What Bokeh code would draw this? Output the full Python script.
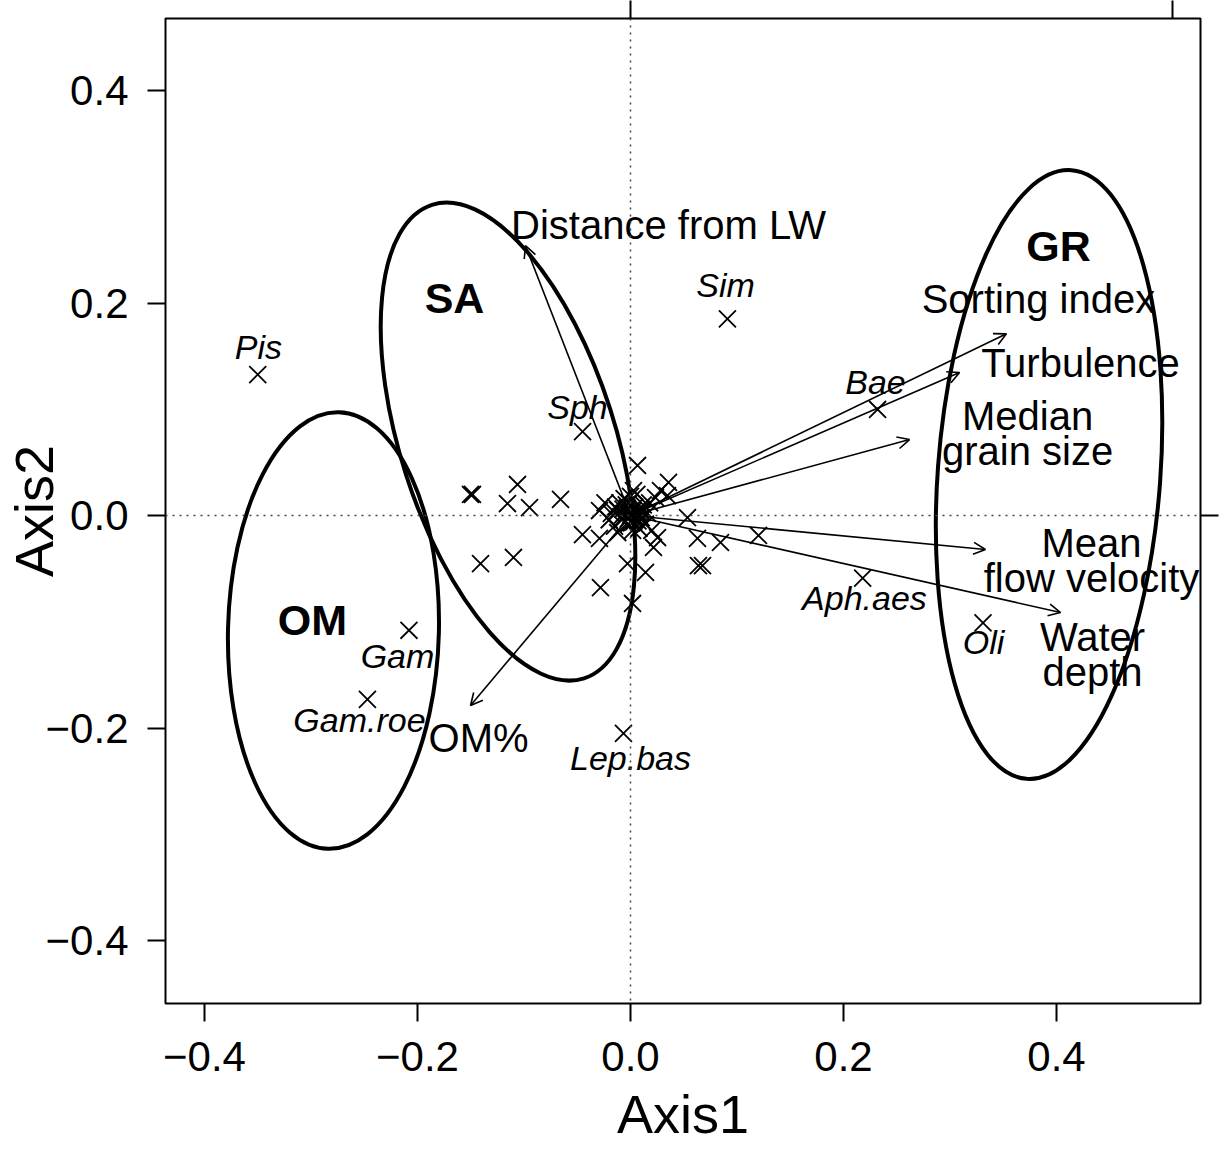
from bokeh.plotting import figure
from bokeh.models import (Range1d, LinearAxis, FixedTicker, CustomJSTickFormatter,
                          Span, Arrow, OpenHead, ColumnDataSource)
from bokeh.core.properties import value
from bokeh.embed import file_html
from bokeh.resources import INLINE

FONT = "Liberation Sans"

# ---------------- data ----------------
x_ticks = [-0.4, -0.2, 0.0, 0.2, 0.4]
y_ticks = [-0.4, -0.2, 0.0, 0.2, 0.4]
top_ticks = [0.0, 0.509]
right_ticks = [0.0]

# group ellipses (centre, full width along major axis, full height, angle in degrees)
group_names = ["OM", "SA", "GR"]
group_cx = [-0.2789, -0.115, 0.393]
group_cy = [-0.1082, 0.0696, 0.0386]
group_w = [0.410, 0.467, 0.573]
group_h = [0.1985, 0.202, 0.2096]
group_angle = [88.6, 107.8, 85.8]
group_lab_x = [-0.2986, -0.1652, 0.4019]
group_lab_y = [-0.0988, 0.2043, 0.2541]

# labelled taxa
species_lab = ["Pis", "Sim", "Bae", "Sph", "Gam", "Gam.roe", "Lep.bas", "Aph.aes", "Oli"]
species_x = [-0.350, 0.091, 0.232, -0.045, -0.208, -0.247, -0.0066, 0.218, 0.331]
species_y = [0.1327, 0.185, 0.0998, 0.079, -0.108, -0.173, -0.205, -0.059, -0.101]
species_lab_x = [-0.3493, 0.0892, 0.230, -0.0498, -0.2188, -0.2545, 0.0, 0.2197, 0.3315]
species_lab_y = [0.159, 0.2165, 0.1252, 0.1026, -0.1318, -0.192, -0.2287, -0.0781, -0.1195]

# unlabelled taxa
other_x = [0.0066, 0.0357, -0.1502, -0.1484, -0.1061, -0.1155, -0.0948, -0.0657, -0.0291,
           -0.0451, -0.0291, -0.1408, -0.1099, -0.0282, -0.0028, 0.0141, 0.0019, 0.0216,
           0.0254, 0.0535, 0.0629, 0.0845, 0.0638, 0.0676, 0.0282, 0.0347, 0.0028, 0.1202,
           0.0235,
           -0.012, -0.008, -0.004, 0.000, 0.003, 0.006, 0.010, -0.015, 0.012, -0.006, 0.002,
           0.008, -0.018, 0.016, -0.010, 0.004, -0.002, 0.014, -0.020, 0.000, 0.018, -0.012,
           0.006, -0.004, 0.010, -0.024, 0.020,
           -0.006, -0.002, 0.002, 0.005, -0.009, 0.008, -0.003, 0.001, 0.004, -0.007, 0.011,
           -0.001, -0.014, 0.007]
other_y = [0.0471, 0.0311, 0.0198, 0.0198, 0.0292, 0.0113, 0.0075, 0.0151, 0.0047,
           -0.0179, -0.0216, -0.0452, -0.0395, -0.0678, -0.0452, -0.0536, -0.0828, -0.0301,
           -0.0207, -0.0019, -0.0216, -0.0254, -0.0471, -0.0471, 0.0235, 0.0188, 0.0235, -0.0188,
           0.0169,
           0.005, -0.004, 0.010, 0.000, -0.006, 0.004, -0.002, -0.010, 0.010, 0.016, -0.014,
           -0.012, 0.002, 0.002, 0.012, 0.008, -0.008, -0.008, -0.004, 0.018, 0.012, -0.016,
           0.020, 0.004, 0.006, 0.012, -0.014,
           0.002, -0.003, 0.004, -0.002, -0.001, 0.001, 0.007, -0.007, -0.004, 0.006, 0.003,
           0.012, 0.008, -0.005]

# environmental vectors
env_names = ["Distance from LW", "Sorting index", "Turbulence", "Median\ngrain size",
             "Mean\nflow velocity", "Water\ndepth", "OM%"]
env_x = [-0.0986, 0.353, 0.309, 0.262, 0.3333, 0.4038, -0.1502]
env_y = [0.254, 0.171, 0.1346, 0.0715, -0.032, -0.0913, -0.1788]
env_lab_x = [0.0357, 0.383, 0.4225, 0.3728, 0.4329, 0.4338, -0.1427]
env_lab_y = [0.2739, 0.2042, 0.144, 0.0772, -0.0424, -0.1308, -0.209]

# ---------------- figure ----------------
p = figure(width=1225, height=1150,
           x_range=Range1d(-0.4366, 0.5352), y_range=Range1d(-0.4593, 0.4678),
           output_backend="svg", toolbar_location=None,
           min_border_left=165, min_border_right=25, min_border_top=18, min_border_bottom=147)
p.grid.visible = False
p.outline_line_color = "black"
p.outline_line_width = 2
p.outline_line_alpha = 1

fmt = CustomJSTickFormatter(code="return (tick < -1e-9 ? '\u2212' : '') + Math.abs(tick).toFixed(1);")
blank = CustomJSTickFormatter(code="return '';")

for ax, ticks in ((p.xaxis[0], x_ticks), (p.yaxis[0], y_ticks)):
    ax.ticker = FixedTicker(ticks=ticks)
    ax.formatter = fmt
    ax.axis_line_color = None
    ax.major_tick_out = 18
    ax.major_tick_in = 0
    ax.major_tick_line_width = 2
    ax.major_tick_line_color = "black"
    ax.minor_tick_line_color = None
    ax.major_label_text_font = FONT
    ax.major_label_text_font_size = "42px"
    ax.major_label_text_color = "black"
    ax.axis_label_text_font = FONT
    ax.axis_label_text_font_size = "54px"
    ax.axis_label_text_font_style = "normal"
    ax.axis_label_text_color = "black"

p.xaxis[0].axis_label = "Axis1"
p.yaxis[0].axis_label = "Axis2"
p.xaxis[0].major_label_standoff = 20
p.yaxis[0].major_label_standoff = 19
p.xaxis[0].axis_label_standoff = 10
p.yaxis[0].axis_label_standoff = -21

for side, ticks in (("above", top_ticks), ("right", right_ticks)):
    ax = LinearAxis(ticker=FixedTicker(ticks=ticks), formatter=blank)
    ax.axis_line_color = None
    ax.major_tick_out = 18
    ax.major_tick_in = 0
    ax.major_tick_line_width = 2
    ax.minor_tick_line_color = None
    ax.major_label_text_font_size = "1px"
    ax.major_label_standoff = 0
    p.add_layout(ax, side)

# dotted zero lines
for dim in ("width", "height"):
    p.add_layout(Span(location=0, dimension=dim, line_color="#444444",
                      line_dash="2 5", line_width=1.5))

# ellipses
gsrc = ColumnDataSource(dict(x=group_cx, y=group_cy, w=group_w, h=group_h, a=group_angle,
                             lx=group_lab_x, ly=group_lab_y, t=group_names))
p.ellipse(x="x", y="y", width="w", height="h", angle="a", angle_units="deg",
          source=gsrc, fill_color=None, line_color="black", line_width=4)

# crosses
p.scatter(other_x, other_y, marker="x", size=24, line_color="black", line_width=1.8)
p.scatter(species_x, species_y, marker="x", size=24, line_color="black", line_width=1.8)

# arrows
esrc = ColumnDataSource(dict(x0=[0.0] * len(env_x), y0=[0.0] * len(env_y), x1=env_x, y1=env_y,
                             lx=env_lab_x, ly=env_lab_y, t=env_names))
p.add_layout(Arrow(end=OpenHead(size=12, line_width=1.6, line_color="black"),
                   x_start="x0", y_start="y0", x_end="x1", y_end="y1",
                   source=esrc, line_width=1.6, line_color="black"))

# texts
p.text(x="lx", y="ly", text="t", source=esrc, text_font=value(FONT), text_font_size="40px",
       text_align="center", text_baseline="middle", text_line_height=0.78, text_color="black")
ssrc = ColumnDataSource(dict(x=species_lab_x, y=species_lab_y, t=species_lab))
p.text(x="x", y="y", text="t", source=ssrc, text_font=value(FONT), text_font_size="34px",
       text_font_style="italic", text_align="center", text_baseline="middle", text_color="black")
p.text(x="lx", y="ly", text="t", source=gsrc, text_font=value(FONT), text_font_size="43px",
       text_font_style="bold", text_align="center", text_baseline="middle", text_color="black")

open("out.html", "w").write(file_html(p, INLINE))
